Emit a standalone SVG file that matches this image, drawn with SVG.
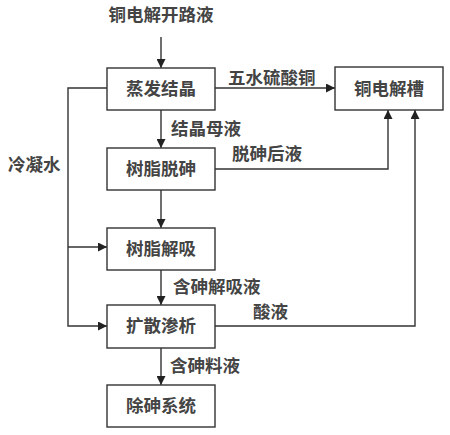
<svg xmlns="http://www.w3.org/2000/svg" width="450" height="435" viewBox="0 0 450 435">
<style>
.box{fill:#fff;stroke:#333;stroke-width:1.4}
.ln{fill:none;stroke:#333;stroke-width:1.4}
text{font-family:"Noto Sans CJK SC","Noto Sans CJK JP",sans-serif;font-size:17.5px;font-weight:bold;fill:#444}
.c{text-anchor:middle}
</style>
<defs>
<marker id="ar" viewBox="0 0 10 10" refX="10" refY="5" markerWidth="9" markerHeight="9" markerUnits="userSpaceOnUse" orient="auto">
<path d="M0,0 L10,5 L0,10 z" fill="#222"/>
</marker>
</defs>
<rect width="450" height="435" fill="#fff"/>
<g id="connectors">
<line class="ln" x1="161" y1="37" x2="161" y2="68" marker-end="url(#ar)"/>
<line class="ln" x1="215" y1="88" x2="335" y2="88" marker-end="url(#ar)"/>
<line class="ln" x1="161" y1="110" x2="161" y2="148" marker-end="url(#ar)"/>
<polyline class="ln" points="215,169 388,169 388,110" marker-end="url(#ar)"/>
<line class="ln" x1="161" y1="190" x2="161" y2="228" marker-end="url(#ar)"/>
<line class="ln" x1="161" y1="270" x2="161" y2="305" marker-end="url(#ar)"/>
<polyline class="ln" points="215,326 415,326 415,110" marker-end="url(#ar)"/>
<line class="ln" x1="161" y1="348" x2="161" y2="385" marker-end="url(#ar)"/>
<polyline class="ln" points="107,88 68,88 68,326 107,326" marker-end="url(#ar)"/>
<line class="ln" x1="68" y1="247" x2="107" y2="247" marker-end="url(#ar)"/>
<text x="161" y="21" class="c">铜电解开路液</text>
<text x="228" y="84">五水硫酸铜</text>
<text x="171" y="135">结晶母液</text>
<text x="232" y="160">脱砷后液</text>
<text x="8" y="171">冷凝水</text>
<text x="173" y="293">含砷解吸液</text>
<text x="253" y="318">酸液</text>
<text x="170" y="372">含砷料液</text>
</g>
<g id="n1"><rect class="box" x="107" y="68" width="108" height="42"/><text x="161" y="95" class="c">蒸发结晶</text></g>
<g id="n2"><rect class="box" x="335" y="67" width="108" height="43"/><text x="389" y="95" class="c">铜电解槽</text></g>
<g id="n3"><rect class="box" x="107" y="148" width="108" height="42"/><text x="161" y="175" class="c">树脂脱砷</text></g>
<g id="n4"><rect class="box" x="107" y="228" width="108" height="42"/><text x="161" y="255" class="c">树脂解吸</text></g>
<g id="n5"><rect class="box" x="107" y="305" width="108" height="43"/><text x="161" y="332" class="c">扩散渗析</text></g>
<g id="n6"><rect class="box" x="107" y="385" width="108" height="42"/><text x="161" y="412" class="c">除砷系统</text></g>
</svg>
